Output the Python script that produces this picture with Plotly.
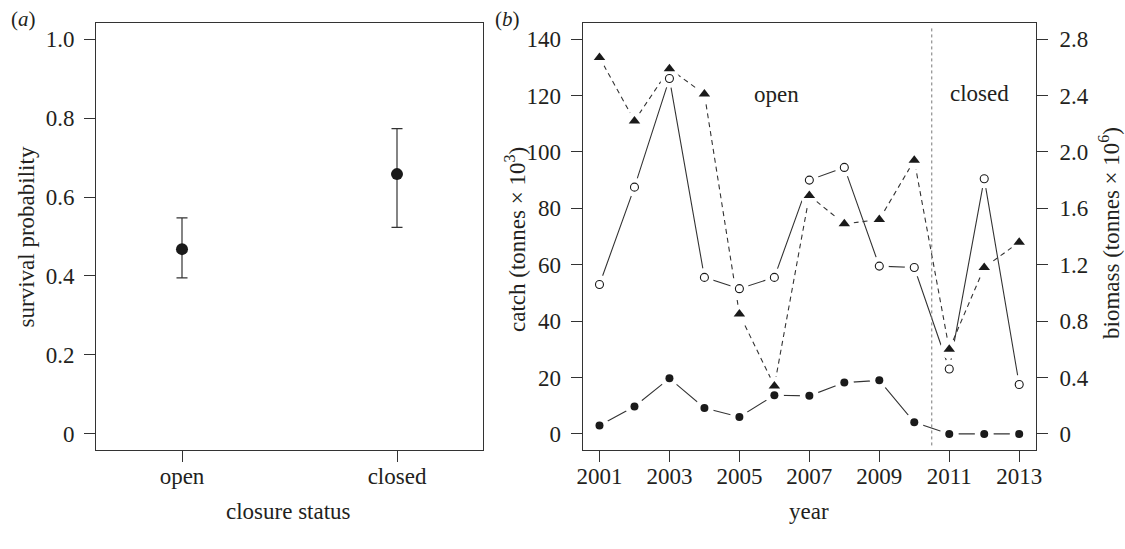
import plotly.graph_objects as go

# ---------------- data ----------------
# panel (a)
closure_status = ["open", "closed"]
survival = [0.468, 0.658]
survival_lower = [0.395, 0.523]
survival_upper = [0.547, 0.773]
surv_ticks = [0, 0.2, 0.4, 0.6, 0.8, 1.0]
surv_ticklabels = ["0", "0.2", "0.4", "0.6", "0.8", "1.0"]

# panel (b)
years = list(range(2001, 2014))
catch = [3.0, 9.7, 19.7, 9.2, 6.0, 13.7, 13.5, 18.2, 19.0, 4.1, 0, 0, 0]          # tonnes x 10^3
biomass_open = [1.06, 1.75, 2.52, 1.11, 1.03, 1.11, 1.80, 1.89, 1.19, 1.18, 0.46, 1.81, 0.35]  # tonnes x 10^6
biomass_tri = [2.67, 2.22, 2.59, 2.41, 0.85, 0.34, 1.69, 1.49, 1.52, 1.94, 0.60, 1.18, 1.36]   # tonnes x 10^6
year_ticks = [2001, 2003, 2005, 2007, 2009, 2011, 2013]
catch_ticks = [0, 20, 40, 60, 80, 100, 120, 140]
biomass_ticks = [0, 0.4, 0.8, 1.2, 1.6, 2.0, 2.4, 2.8]
biomass_ticklabels = ["0", "0.4", "0.8", "1.2", "1.6", "2.0", "2.4", "2.8"]
closure_year = 2010.5

# the two y scales are linked: catch axis 0..140 <-> biomass axis 0..2.8
catch_range = [-5.6, 145.6]
BIO_TO_CATCH = catch_ticks[-1] / biomass_ticks[-1]
bio_range = [v / BIO_TO_CATCH for v in catch_range]

# ---------------- style ----------------
W, H = 1125, 549
FONT = "Liberation Serif"
INK = "#231f20"
LINE = "#333333"
FS = 23

def px(x):
    return x / W

def py(y):
    return 1 - y / H

ydom = [py(449.7), py(23.3)]
xdom_a = [px(96), px(483)]
xdom_b = [px(582.7), px(1036)]

fig = go.Figure()

# ---------- panel (a) ----------
xa = [1, 2]
fig.add_trace(go.Scatter(
    x=xa, y=survival, mode="markers",
    marker=dict(size=12, color="#1a1a1a"),
    error_y=dict(type="data", symmetric=False,
                 array=[u - s for u, s in zip(survival_upper, survival)],
                 arrayminus=[s - l for s, l in zip(survival, survival_lower)],
                 color=LINE, thickness=1.2, width=5.5),
    xaxis="x", yaxis="y", showlegend=False, hoverinfo="skip"))

# ---------- panel (b) ----------
# biomass series drawn in the same layer, expressed on the linked catch scale
open_y = [b * BIO_TO_CATCH for b in biomass_open]
tri_y = [b * BIO_TO_CATCH for b in biomass_tri]

series = [
    (open_y, dict(color=LINE, width=1.1),
     dict(symbol="circle-open", size=8, color="#1a1a1a", line=dict(width=1.1))),
    (tri_y, dict(color=LINE, width=1.1, dash="5px,4px"),
     dict(symbol="triangle-up", size=10, color="#1a1a1a")),
    (catch, dict(color=LINE, width=1.1),
     dict(symbol="circle", size=8, color="#1a1a1a")),
]
# lines
for ys, ln, mk in series:
    fig.add_trace(go.Scatter(x=years, y=ys, mode="lines", line=ln,
                             xaxis="x2", yaxis="y2", showlegend=False, hoverinfo="skip"))
# white masks -> gaps around points (R type="b")
for ys, ln, mk in series:
    fig.add_trace(go.Scatter(x=years, y=ys, mode="markers",
                             marker=dict(size=19, color="white", line=dict(width=0)),
                             xaxis="x2", yaxis="y2", showlegend=False, hoverinfo="skip"))
# markers
for ys, ln, mk in series:
    fig.add_trace(go.Scatter(x=years, y=ys, mode="markers", marker=mk,
                             xaxis="x2", yaxis="y2", showlegend=False, hoverinfo="skip"))
# right (biomass) axis holder
fig.add_trace(go.Scatter(x=[years[0]], y=[biomass_ticks[0]], mode="markers",
                         marker=dict(size=1, opacity=0), xaxis="x2", yaxis="y3",
                         showlegend=False, hoverinfo="skip"))

axis_common = dict(showgrid=False, zeroline=False, linecolor=LINE,
                   linewidth=1, ticks="outside", ticklen=11, tickwidth=1, tickcolor=LINE,
                   tickfont=dict(family=FONT, size=FS, color=INK), automargin=False)

fig.update_layout(
    width=W, height=H,
    margin=dict(l=0, r=0, t=0, b=0),
    paper_bgcolor="white", plot_bgcolor="white",
    font=dict(family=FONT, size=FS, color=INK),
    xaxis=dict(domain=xdom_a, range=[0.6, 2.4], tickvals=xa, ticktext=closure_status,
               showline=True, mirror=True, anchor="y", ticklabelstandoff=-5, **axis_common),
    yaxis=dict(domain=ydom, range=[-0.04, 1.04], tickvals=surv_ticks, ticktext=surv_ticklabels,
               showline=True, mirror=True, anchor="x", ticklabelstandoff=5, **axis_common),
    xaxis2=dict(domain=xdom_b, range=[2000.52, 2013.48], tickvals=year_ticks,
                showline=True, mirror=True, anchor="y2", ticklabelstandoff=-5, **axis_common),
    yaxis2=dict(domain=ydom, range=catch_range, tickvals=catch_ticks,
                showline=True, mirror=True, anchor="x2", ticklabelstandoff=5, **axis_common),
    yaxis3=dict(range=bio_range, tickvals=biomass_ticks, ticktext=biomass_ticklabels,
                overlaying="y2", side="right", anchor="x2", ticklabelstandoff=7,
                showline=False, **axis_common),
)

# closure line
fig.add_shape(type="line", xref="x2", yref="y2 domain", x0=closure_year, x1=closure_year,
              y0=0.01, y1=0.99, line=dict(color="#777777", width=1, dash="dot"))

ann = []
def A(text, x, y, angle=0, size=FS, xanchor="center", yanchor="middle"):
    ann.append(dict(text=text, x=px(x), y=py(y), xref="paper", yref="paper",
                    showarrow=False, textangle=angle, xanchor=xanchor, yanchor=yanchor,
                    font=dict(family=FONT, size=size, color=INK)))

A("(<i>a</i>)", 23, 19, size=21)
A("(<i>b</i>)", 507, 19, size=21)
A("survival probability", 26.7, 236.7, angle=-90)
A("closure status", 288, 511.7)
A("catch (tonnes × 10<sup>3</sup>)", 515, 240, angle=-90)
A("biomass (tonnes × 10<sup>6</sup>)", 1109, 233, angle=-90)
A("year", 809, 511.7)
fig.update_layout(annotations=ann)

fig.add_annotation(text="open", x=2006.07, y=120.4, xref="x2", yref="y2", showarrow=False,
                   font=dict(family=FONT, size=FS, color=INK))
fig.add_annotation(text="closed", x=2011.86, y=120.8, xref="x2", yref="y2", showarrow=False,
                   font=dict(family=FONT, size=FS, color=INK))

fig.write_html("out.html", config={"displayModeBar": False},
               post_script="document.body.style.margin='0px';document.body.style.padding='0px';")
